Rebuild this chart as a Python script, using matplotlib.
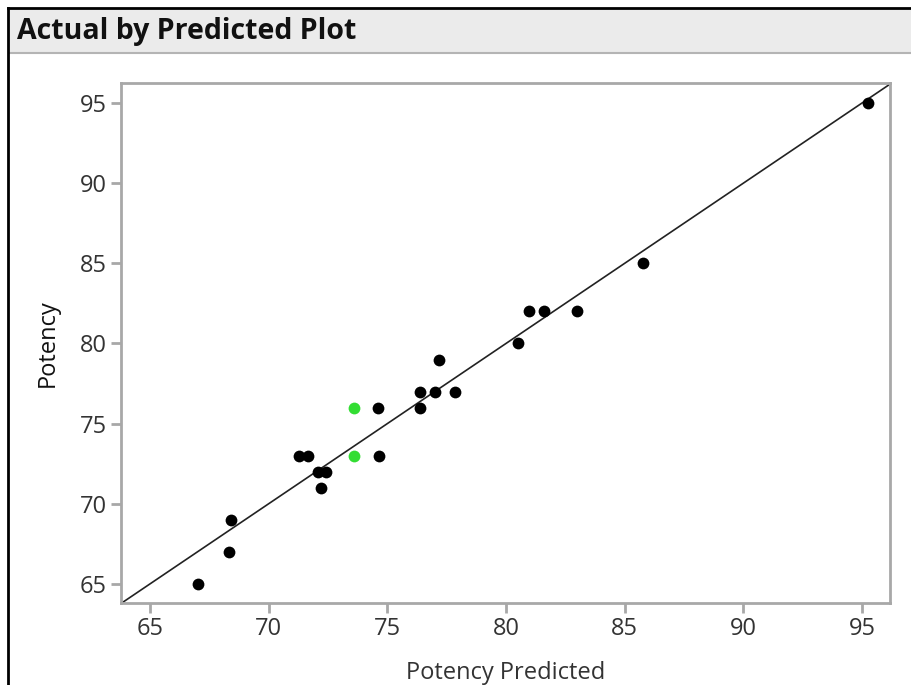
import matplotlib
matplotlib.use("Agg")
import matplotlib.pyplot as plt
from matplotlib.patches import Rectangle
from matplotlib.lines import Line2D

plt.rcParams['font.family'] = ['Open Sans', 'DejaVu Sans']

# Actual by predicted values
predicted = [67.02, 68.33, 68.41, 71.28, 71.66, 72.08, 72.42, 72.21, 74.61, 74.65,
             76.38, 76.38, 77.01, 77.18, 77.85, 80.51, 80.97, 81.60, 83.0, 85.78, 95.26]
actual = [65, 67, 69, 73, 73, 72, 72, 71, 76, 73,
          77, 76, 77, 79, 77, 80, 82, 82, 82, 85, 95]
# highlighted (green) rows
pred_green = [73.60, 73.60]
act_green = [76, 73]

ticks = [65, 70, 75, 80, 85, 90, 95]
xlim = (63.78, 96.18)
ylim = (63.81, 96.25)

fig = plt.figure(figsize=(9.11, 6.85), dpi=100)

# header band + outer frame
fig.patches.append(Rectangle((9 / 911, 1 - 53 / 685), 1, 44 / 685, transform=fig.transFigure,
                             facecolor='#ebebeb', edgecolor='none', zorder=0))
fig.add_artist(Line2D([9 / 911, 1], [1 - 53 / 685] * 2, color='#b4b4b4', lw=1.5))
fig.add_artist(Line2D([8 / 911, 8 / 911], [0, 1 - 8 / 685], color='black', lw=2))
fig.add_artist(Line2D([8 / 911, 1], [1 - 8 / 685] * 2, color='black', lw=2))
fig.text(17 / 911, 1 - 32 / 685, 'Actual by Predicted Plot', fontsize=20.5, fontweight='bold',
         va='center', ha='left', color='#111111')

ax = fig.add_axes([121 / 911, 1 - 603 / 685, 769 / 911, 520 / 685])
ax.plot(xlim, xlim, color='#222222', lw=1.2, zorder=2)
ax.scatter(predicted, actual, s=72, color='black', zorder=3, linewidths=0)
ax.scatter(pred_green, act_green, s=72, color='#33dd33', zorder=3, linewidths=0)

ax.set_xlim(*xlim)
ax.set_ylim(*ylim)
ax.set_xticks(ticks)
ax.set_yticks(ticks)
for s in ax.spines.values():
    s.set_color('#a8a8a8')
    s.set_linewidth(2)
ax.tick_params(direction='out', length=7, width=2, color='#a8a8a8',
               labelsize=17, labelcolor='#333333', pad=3)
ax.set_xlabel('Potency Predicted', fontsize=17, color='#333333')
ax.set_ylabel('Potency', fontsize=17, color='#111111')
ax.xaxis.set_label_coords(0.5, -0.111)
ax.yaxis.set_label_coords(-0.079, 0.5)

fig.savefig('out.png', dpi=100)
